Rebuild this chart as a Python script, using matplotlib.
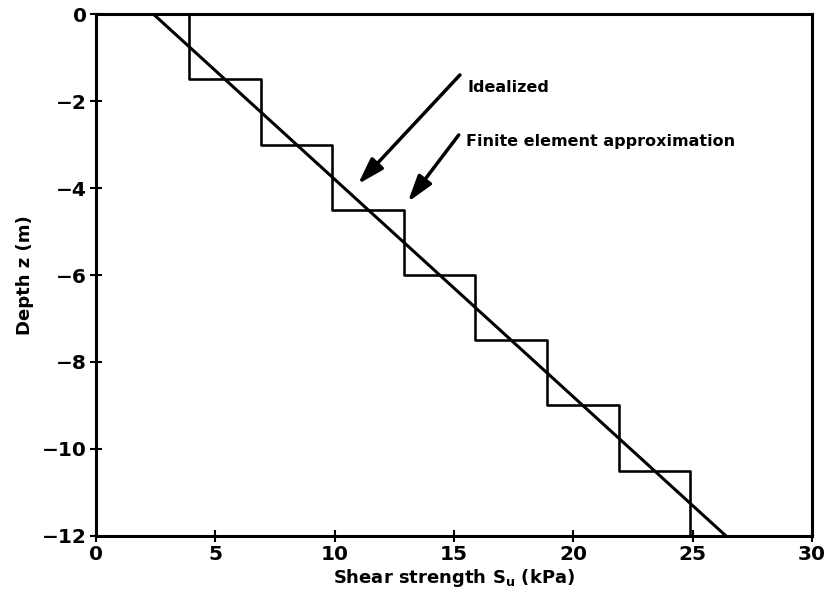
import matplotlib
matplotlib.use('Agg')
import matplotlib.pyplot as plt
import numpy as np

# idealized strength profile (straight line)
ideal_depth = [0.0, -12.0]
ideal_strength = [2.4, 26.4]

# finite element layers: bottom/top depth of each layer and its strength
layer_depth = [0.0, -1.5, -3.0, -4.5, -6.0, -7.5, -9.0, -10.5, -12.0]
layer_strength = [3.9, 6.9, 9.9, 12.9, 15.9, 18.9, 21.9, 24.9]

x_ticks = [0, 5, 10, 15, 20, 25, 30]
y_ticks = [0, -2, -4, -6, -8, -10, -12]


def main():
    plt.rcParams['font.family'] = 'DejaVu Sans'
    plt.rcParams['font.weight'] = 'bold'
    plt.rcParams['mathtext.default'] = 'bf'

    fig = plt.figure(figsize=(8.26, 6.04), dpi=100)
    ax = fig.add_axes([0.1162, 0.1126, 0.8668, 0.8642])

    lw = 2.2
    ax.plot(ideal_strength, ideal_depth, color='black', linewidth=lw)

    # build the staircase
    sx, sy = [], []
    for i, s in enumerate(layer_strength):
        sx += [s, s]
        sy += [layer_depth[i], layer_depth[i + 1]]
    ax.plot(sx, sy, color='black', linewidth=lw * 0.85)

    ax.set_xlim(0, 30)
    ax.set_ylim(-12, 0)
    ax.set_xticks(x_ticks)
    ax.set_yticks(y_ticks)
    ax.set_xticklabels([str(t) for t in x_ticks])
    ax.set_yticklabels([str(t).replace('-', '\u2212') for t in y_ticks])
    ax.tick_params(direction='inout', length=9, width=1.5, labelsize=14.5,
                   pad=2)
    for sp in ax.spines.values():
        sp.set_linewidth(2.2)

    ax.set_xlabel('Shear strength $S_u$ (kPa)', fontsize=13,
                  fontweight='bold', labelpad=2)
    ax.set_ylabel('Depth z (m)', fontsize=13, fontweight='bold', labelpad=6)

    arrow = dict(arrowstyle='-|>,head_length=1.6,head_width=0.5',
                 color='black', linewidth=2.5, shrinkA=0, shrinkB=0)
    ax.annotate('', xy=(10.98, -3.91), xytext=(15.25, -1.40),
                arrowprops=arrow)
    ax.annotate('', xy=(13.07, -4.32), xytext=(15.2, -2.78),
                arrowprops=arrow)
    ax.text(15.55, -1.68, 'Idealized', fontsize=11.5, fontweight='bold',
            va='center', ha='left')
    ax.text(15.5, -2.94, 'Finite element approximation', fontsize=11.5,
            fontweight='bold', va='center', ha='left')

    fig.savefig('out.png', dpi=100)


if __name__ == "__main__":
    main()
